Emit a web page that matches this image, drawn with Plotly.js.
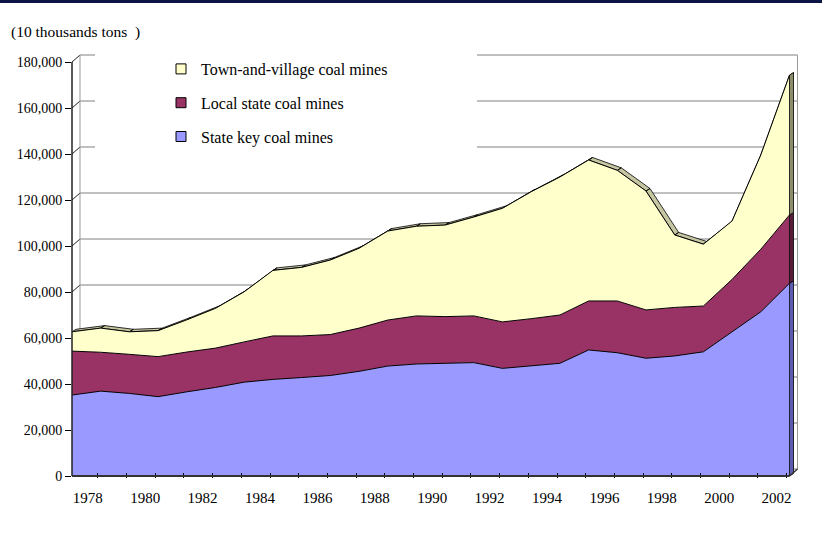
<!DOCTYPE html>
<html>
<head>
<meta charset="utf-8">
<script src="https://cdn.plot.ly/plotly-3.0.1.min.js"></script>
<style>html,body{margin:0;padding:0;background:#fff;}#chart{width:822px;height:541px;}</style>
</head>
<body>
<div id="chart"></div>
<script>
// ---------- data (10 thousand tons) ----------
const years = [1978,1979,1980,1981,1982,1983,1984,1985,1986,1987,1988,1989,1990,1991,1992,1993,1994,1995,1996,1997,1998,1999,2000,2001,2002,2003];
const labelYears = [1978,1980,1982,1984,1986,1988,1990,1992,1994,1996,1998,2000,2002];
const stateKey   = [35200,36900,35900,34500,36600,38500,40800,42000,42800,43700,45500,47800,48700,48900,49300,46800,47900,49000,54800,53600,51200,52200,54000,62700,71400,83800];
const localState = [19100,16900,17000,17400,17300,17100,17500,18900,18100,17800,18800,20000,20900,20400,20300,20200,20500,21000,21300,22500,21000,21100,19900,22800,27200,29700];
const townVillage= [8400,10500,9800,11300,14000,17300,21800,28500,29800,32400,34700,38700,39000,39800,43000,49400,55200,60000,61300,56800,51700,31500,26900,25400,41000,60800];
const yTicks = [0,20000,40000,60000,80000,100000,120000,140000,160000,180000];
const seriesNames = ['State key coal mines','Local state coal mines','Town-and-village coal mines'];
const seriesColors = ['#9999FF','#993366','#FFFFCC'];
const sideColors = ['#5C5CB0','#561C3A','#8E8E6C'];
const ribbonColor = '#C6C6A2';

// ---------- geometry ----------
const L = 72, R = 800, T = 50, B = 478, ZERO_PX = 476;
const pxPerYear = 28.7;
const unitsPerPx = 180000 / 414;
const X0 = years[0], X1 = X0 + (R - L) / pxPerYear;
const Y0 = -(B - ZERO_PX) * unitsPerPx, Y1 = (ZERO_PX - T) * unitsPerPx;
const XL = years[years.length - 1];
const dX = 4 / pxPerYear, dY = 2.5 * unitsPerPx;     // depth of the area band
const wX = 8 / pxPerYear, wY = 7 * unitsPerPx;       // offset of the back wall
const xp = x => (x - X0) / (X1 - X0);
const yp = y => (y - Y0) / (Y1 - Y0);
const pxX = p => (p - L) / (R - L);
const pxY = p => (B - p) / (B - T);

// stacked tops
const top1 = stateKey.slice();
const top2 = top1.map((v, i) => v + localState[i]);
const top3 = top2.map((v, i) => v + townVillage[i]);
const tops = [top1, top2, top3];
const bottoms = [years.map(() => 0), top1, top2];

const traces = [];

// top surface ribbons of the 3D area
const rx = [], ry = [];
for (let i = 0; i < years.length - 1; i++) {
  rx.push(years[i], years[i+1], years[i+1] + dX, years[i] + dX, years[i], null);
  ry.push(top3[i], top3[i+1], top3[i+1] + dY, top3[i] + dY, top3[i], null);
}
traces.push({type:'scatter', mode:'lines', x:rx, y:ry, fill:'toself', fillcolor:ribbonColor,
  line:{color:'#000', width:0.8}, showlegend:false, hoverinfo:'skip', connectgaps:false});

// stacked front faces
const values = [stateKey, localState, townVillage];
values.forEach((v, k) => {
  traces.push({type:'scatter', mode:'lines', x:years, y:v, stackgroup:'one',
    fillcolor:seriesColors[k], line:{color:'#000', width:1}, showlegend:false,
    name:seriesNames[k]});
});

// right side faces
for (let k = 0; k < 3; k++) {
  const b = bottoms[k][years.length - 1], t = tops[k][years.length - 1];
  traces.push({type:'scatter', mode:'lines', x:[XL, XL, XL + dX, XL + dX, XL], y:[b, t, t + dY, b + dY, b],
    fill:'toself', fillcolor:sideColors[k], line:{color:'#000', width:0.8}, showlegend:false, hoverinfo:'skip'});
}

// legend entries
[2, 1, 0].forEach(k => {
  traces.push({type:'scatter', mode:'markers', x:[null], y:[null], xaxis:'x2',
    name:seriesNames[k], legendgroup:'g' + k,
    marker:{symbol:'square', size:10, color:seriesColors[k], line:{color:'#000', width:1}}});
});

// ---------- decorations ----------
const shapes = [];
yTicks.forEach(v => {
  shapes.push({type:'line', xref:'paper', yref:'paper', layer:'below',
    x0:xp(X0 + wX), x1:xp(XL + wX), y0:yp(v + wY), y1:yp(v + wY), line:{color:'#808080', width:1}});
  shapes.push({type:'line', xref:'paper', yref:'paper', layer:'below',
    x0:xp(X0), x1:xp(X0 + wX), y0:yp(v), y1:yp(v + wY), line:{color:'#222', width:1}});
});
shapes.push({type:'line', xref:'paper', yref:'paper', layer:'below',
  x0:xp(X0 + wX), x1:xp(X0 + wX), y0:yp(wY), y1:yp(180000 + wY), line:{color:'#999', width:1}});
shapes.push({type:'line', xref:'paper', yref:'paper', layer:'below',
  x0:xp(XL + wX), x1:xp(XL + wX), y0:yp(wY), y1:yp(180000 + wY), line:{color:'#999', width:1}});
// white legend backdrop
shapes.push({type:'rect', xref:'paper', yref:'paper', layer:'below',
  x0:pxX(95), x1:pxX(477), y0:pxY(160), y1:pxY(45), fillcolor:'#fff', line:{width:0}});
// front axes
shapes.push({type:'line', xref:'paper', yref:'paper', layer:'above',
  x0:xp(X0), x1:xp(X0), y0:yp(0), y1:yp(180000), line:{color:'#222', width:1.5}});
shapes.push({type:'line', xref:'paper', yref:'paper', layer:'above',
  x0:xp(X0), x1:xp(XL), y0:yp(0), y1:yp(0), line:{color:'#333', width:2}});
shapes.push({type:'line', xref:'paper', yref:'paper', layer:'above',
  x0:xp(XL), x1:xp(XL + wX), y0:yp(0), y1:yp(wY), line:{color:'#333', width:1.5}});
// top navy band
shapes.push({type:'rect', xref:'paper', yref:'paper', layer:'above',
  x0:pxX(0), x1:pxX(822), y0:pxY(3), y1:pxY(0), fillcolor:'#0B1445', line:{width:0}});

const serif = 'Liberation Serif, Times New Roman, serif';
const layout = {
  width:822, height:541, autosize:false,
  margin:{l:L, r:822 - R, t:T, b:541 - B, pad:0},
  paper_bgcolor:'#fff', plot_bgcolor:'rgba(0,0,0,0)',
  font:{family:serif, size:14, color:'#000'},
  showlegend:true,
  legend:{x:pxX(161), y:pxY(52), xanchor:'left', yanchor:'top', bgcolor:'rgba(0,0,0,0)',
    font:{family:serif, size:16, color:'#000'}, tracegroupgap:10, traceorder:'grouped'},
  xaxis:{range:[X0, X1], tickmode:'array', tickvals:years.map(y => y - 0.1), ticks:'inside', ticklen:5,
    tickcolor:'#000', showticklabels:false, showgrid:false, zeroline:false, showline:false, fixedrange:true},
  xaxis2:{range:[X0, X1], overlaying:'x', anchor:'y', side:'bottom', tickmode:'array',
    tickvals:labelYears.map(y => y + 0.55), ticktext:labelYears.map(String), ticks:'',
    ticklabelstandoff:9, showgrid:false, zeroline:false, showline:false, fixedrange:true,
    tickfont:{family:serif, size:15, color:'#000'}},
  yaxis:{range:[Y0, Y1], tickmode:'array', tickvals:yTicks, tickformat:',d', ticks:'outside', ticklen:6,
    tickcolor:'#000', showgrid:false, zeroline:false, showline:false, fixedrange:true,
    tickfont:{family:serif, size:14, color:'#000'}},
  shapes:shapes,
  annotations:[{xref:'paper', yref:'paper', x:pxX(9), y:pxY(32), xanchor:'left', yanchor:'middle',
    showarrow:false, text:'(10 thousands tons  )', font:{family:serif, size:15.5, color:'#000'}}]
};
Plotly.newPlot('chart', traces, layout, {displayModeBar:false, staticPlot:true});
</script>
</body>
</html>
